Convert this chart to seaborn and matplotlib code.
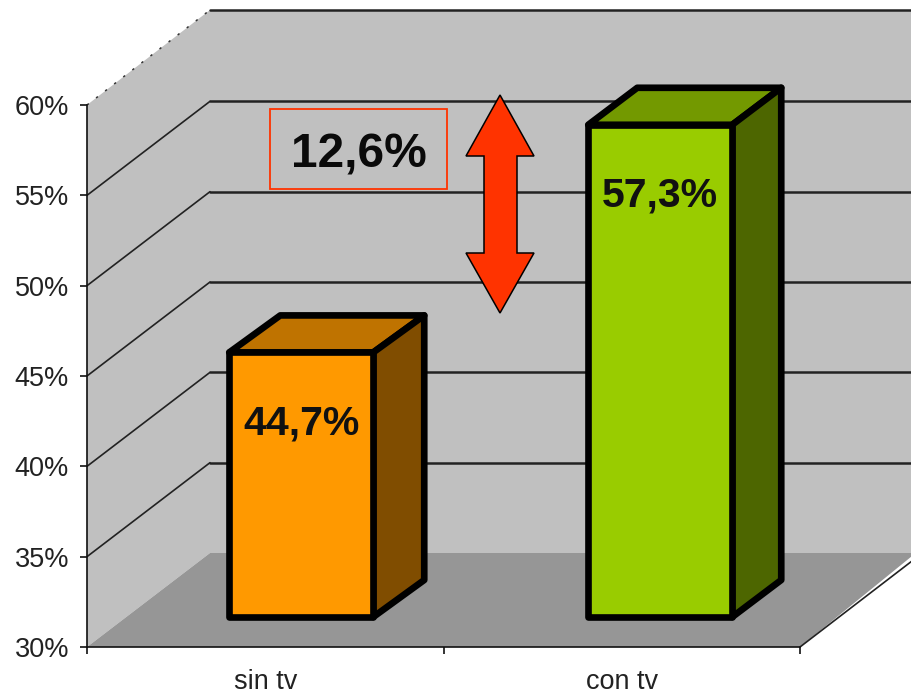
import matplotlib
matplotlib.use("Agg")
import matplotlib.pyplot as plt
import seaborn as sns
import pandas as pd
from matplotlib.patches import Polygon, Rectangle

categories = ["sin tv", "con tv"]
values = [44.7, 57.3]
value_labels = ["44,7%", "57,3%"]
y_ticks = [30, 35, 40, 45, 50, 55, 60]
y_tick_labels = ["30%", "35%", "40%", "45%", "50%", "55%", "60%"]
difference_label = "12,6%"

front_colors = ["#FF9900", "#99CC00"]
top_colors = ["#BF7300", "#739900"]
side_colors = ["#804D00", "#4D6600"]

W, H = 912, 695
L, R, T, B = 87, 800, 105, 647  # front plane of the chart, in pixels

sns.set_theme(style="white")
plt.rcParams["font.family"] = ["Liberation Sans", "DejaVu Sans"]

fig = plt.figure(figsize=(W / 100, H / 100), dpi=100, facecolor="white")
ax = fig.add_axes([L / W, 1 - B / H, (R - L) / W, (B - T) / H])
ax.set_facecolor("none")

df = pd.DataFrame({"cat": categories, "val": values})
sns.barplot(data=df, x="cat", y="val", hue="cat", palette=front_colors, legend=False,
            width=144 / 356.5, ax=ax, zorder=5, saturation=1,
            edgecolor="black", linewidth=4.8)
ax.set_xlim(-0.5, 1.5)
ax.set_ylim(30, 60)


def sx(px):
    return px * 2 / (R - L)


def sy(px):
    return px * 30 / (B - T)


def X(px):
    return -0.5 + sx(px - L)


def Y(py):
    return 30 + sy(B - py)


GREY, FLOOR = "#C0C0C0", "#969696"
DX, DY = 123, 94  # chart depth

# walls and floor
ax.add_patch(Polygon([(X(L), Y(T)), (X(L + DX), Y(T - 95)), (X(W + 5), Y(T - 95)),
                      (X(W + 5), Y(B - DY)), (X(L + DX), Y(B - DY)), (X(L), Y(B))],
                     fc=GREY, ec="none", clip_on=False, zorder=1))
ax.add_patch(Polygon([(X(L), Y(B)), (X(L + DX), Y(B - DY)), (X(W + 5), Y(B - DY)),
                      (X(W + 5), Y(B - 90)), (X(R), Y(B))],
                     fc=FLOOR, ec="none", clip_on=False, zorder=1.5))
ax.add_patch(Polygon([(X(R), Y(B)), (X(W + 5), Y(B - 90)), (X(W + 5), Y(B - DY - 1))],
                     fc="white", ec="none", clip_on=False, zorder=1.6))

# gridlines
for t in y_ticks[1:-1]:
    ax.plot([-0.5, X(L + DX)], [t, t + sy(DY)], color="#222222", lw=1.2, clip_on=False, zorder=2)
    ax.plot([X(L + DX), X(W + 5)], [t + sy(DY)] * 2, color="#222222", lw=1.8, clip_on=False, zorder=2)
ax.plot([-0.5, X(L + DX)], [60, 60 + sy(95)], color="#333333", lw=1.1, ls=(0, (1.5, 6)), clip_on=False, zorder=2)
ax.plot([X(L + DX), X(W + 5)], [60 + sy(95)] * 2, color="#222222", lw=1.8, clip_on=False, zorder=2)
ax.plot([1.5, X(W)], [30, 30 + sy(86)], color="#222222", lw=1.2, clip_on=False, zorder=2)

# 3-D boxes built from the bars
OXS = [36, 38.5]   # depth position of the front face
OY = 29
BXS = [51, 49]     # depth of the box
BY = 37
for p, v, lab, tc, sc, OX, BX in zip(ax.patches, values, value_labels, top_colors, side_colors, OXS, BXS):
    x0 = p.get_x() + sx(OX)
    x1 = x0 + p.get_width()
    y0, y1 = 30 + sy(OY + 1), v + sy(OY)
    p.set_x(x0)
    p.set_y(y0)
    p.set_height(y1 - y0)
    p.set_clip_on(False)
    p.set_joinstyle("round")
    ax.add_patch(Polygon([(x0, y1), (x0 + sx(BX), y1 + sy(BY)), (x1 + sx(BX), y1 + sy(BY)), (x1, y1)],
                         fc=tc, ec="black", lw=4.8, joinstyle="round", clip_on=False, zorder=4))
    ax.add_patch(Polygon([(x1, y0), (x1 + sx(BX), y0 + sy(BY)), (x1 + sx(BX), y1 + sy(BY)), (x1, y1)],
                         fc=sc, ec="black", lw=4.8, joinstyle="round", clip_on=False, zorder=4))
    ax.text((x0 + x1) / 2, y1 - sy(71), lab, ha="center", va="center", fontsize=29.5,
            color="#111111", weight="bold", zorder=7)

# difference annotation
ax.add_patch(Rectangle((X(270), Y(189)), sx(177), sy(80), fc="none", ec="#FF3300", lw=1.3,
                       clip_on=False, zorder=6))
ax.text(X(359), Y(155), difference_label, ha="center", va="center", fontsize=34.5,
        weight="bold", color="#0a0a0a", zorder=7)
arrow = [(500, 95), (534, 156), (517, 156), (517, 253), (534, 253), (500, 313),
         (466, 253), (484, 253), (484, 156), (466, 156)]
ax.add_patch(Polygon([(X(a), Y(b)) for a, b in arrow], fc="#FF3300", ec="black", lw=1.1,
                     clip_on=False, zorder=6))

# axes
for s in ["top", "right"]:
    ax.spines[s].set_visible(False)
for s in ["left", "bottom"]:
    ax.spines[s].set_visible(True)
    ax.spines[s].set_color("#111111")
    ax.spines[s].set_linewidth(1.2)
    ax.spines[s].set_zorder(3)
ax.set_yticks(y_ticks, y_tick_labels)
ax.set_xticks([-0.5, 0.5, 1.5], minor=False, labels=["", "", ""])
for lab, xc in zip(categories, [0, 1]):
    ax.text(xc, Y(682), lab, ha="center", va="center", fontsize=19.5, color="#222222", clip_on=False)
ax.tick_params(axis="both", length=5, width=1.2, color="#111111", left=True, bottom=True,
               labelsize=19.5, labelcolor="#222222", pad=8)
ax.set_xlabel("")
ax.set_ylabel("")

fig.savefig("out.png", dpi=100, facecolor="white")
